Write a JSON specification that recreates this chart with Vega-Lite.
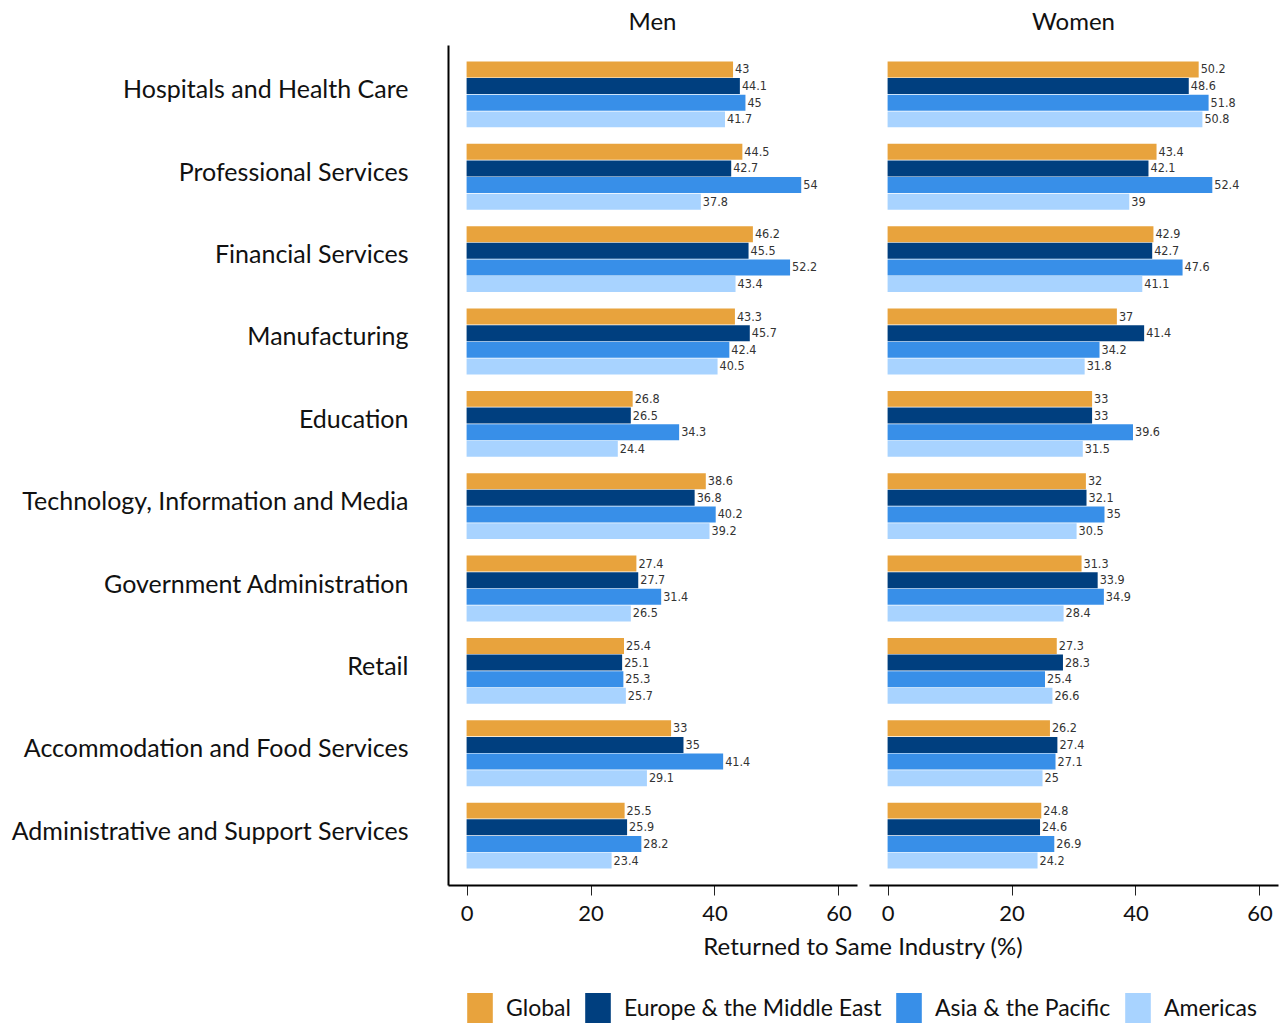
{
  "$schema": "https://vega.github.io/schema/vega-lite/v6.json",
  "background": "white",
  "padding": {"left": 11, "top": 11, "right": 5, "bottom": 5},
  "data": {"values": [
    {"g":"Men","i":"Hospitals and Health Care","r":"Global","v":43},
    {"g":"Men","i":"Hospitals and Health Care","r":"Europe & the Middle East","v":44.1},
    {"g":"Men","i":"Hospitals and Health Care","r":"Asia & the Pacific","v":45},
    {"g":"Men","i":"Hospitals and Health Care","r":"Americas","v":41.7},
    {"g":"Men","i":"Professional Services","r":"Global","v":44.5},
    {"g":"Men","i":"Professional Services","r":"Europe & the Middle East","v":42.7},
    {"g":"Men","i":"Professional Services","r":"Asia & the Pacific","v":54},
    {"g":"Men","i":"Professional Services","r":"Americas","v":37.8},
    {"g":"Men","i":"Financial Services","r":"Global","v":46.2},
    {"g":"Men","i":"Financial Services","r":"Europe & the Middle East","v":45.5},
    {"g":"Men","i":"Financial Services","r":"Asia & the Pacific","v":52.2},
    {"g":"Men","i":"Financial Services","r":"Americas","v":43.4},
    {"g":"Men","i":"Manufacturing","r":"Global","v":43.3},
    {"g":"Men","i":"Manufacturing","r":"Europe & the Middle East","v":45.7},
    {"g":"Men","i":"Manufacturing","r":"Asia & the Pacific","v":42.4},
    {"g":"Men","i":"Manufacturing","r":"Americas","v":40.5},
    {"g":"Men","i":"Education","r":"Global","v":26.8},
    {"g":"Men","i":"Education","r":"Europe & the Middle East","v":26.5},
    {"g":"Men","i":"Education","r":"Asia & the Pacific","v":34.3},
    {"g":"Men","i":"Education","r":"Americas","v":24.4},
    {"g":"Men","i":"Technology, Information and Media","r":"Global","v":38.6},
    {"g":"Men","i":"Technology, Information and Media","r":"Europe & the Middle East","v":36.8},
    {"g":"Men","i":"Technology, Information and Media","r":"Asia & the Pacific","v":40.2},
    {"g":"Men","i":"Technology, Information and Media","r":"Americas","v":39.2},
    {"g":"Men","i":"Government Administration","r":"Global","v":27.4},
    {"g":"Men","i":"Government Administration","r":"Europe & the Middle East","v":27.7},
    {"g":"Men","i":"Government Administration","r":"Asia & the Pacific","v":31.4},
    {"g":"Men","i":"Government Administration","r":"Americas","v":26.5},
    {"g":"Men","i":"Retail","r":"Global","v":25.4},
    {"g":"Men","i":"Retail","r":"Europe & the Middle East","v":25.1},
    {"g":"Men","i":"Retail","r":"Asia & the Pacific","v":25.3},
    {"g":"Men","i":"Retail","r":"Americas","v":25.7},
    {"g":"Men","i":"Accommodation and Food Services","r":"Global","v":33},
    {"g":"Men","i":"Accommodation and Food Services","r":"Europe & the Middle East","v":35},
    {"g":"Men","i":"Accommodation and Food Services","r":"Asia & the Pacific","v":41.4},
    {"g":"Men","i":"Accommodation and Food Services","r":"Americas","v":29.1},
    {"g":"Men","i":"Administrative and Support Services","r":"Global","v":25.5},
    {"g":"Men","i":"Administrative and Support Services","r":"Europe & the Middle East","v":25.9},
    {"g":"Men","i":"Administrative and Support Services","r":"Asia & the Pacific","v":28.2},
    {"g":"Men","i":"Administrative and Support Services","r":"Americas","v":23.4},
    {"g":"Women","i":"Hospitals and Health Care","r":"Global","v":50.2},
    {"g":"Women","i":"Hospitals and Health Care","r":"Europe & the Middle East","v":48.6},
    {"g":"Women","i":"Hospitals and Health Care","r":"Asia & the Pacific","v":51.8},
    {"g":"Women","i":"Hospitals and Health Care","r":"Americas","v":50.8},
    {"g":"Women","i":"Professional Services","r":"Global","v":43.4},
    {"g":"Women","i":"Professional Services","r":"Europe & the Middle East","v":42.1},
    {"g":"Women","i":"Professional Services","r":"Asia & the Pacific","v":52.4},
    {"g":"Women","i":"Professional Services","r":"Americas","v":39},
    {"g":"Women","i":"Financial Services","r":"Global","v":42.9},
    {"g":"Women","i":"Financial Services","r":"Europe & the Middle East","v":42.7},
    {"g":"Women","i":"Financial Services","r":"Asia & the Pacific","v":47.6},
    {"g":"Women","i":"Financial Services","r":"Americas","v":41.1},
    {"g":"Women","i":"Manufacturing","r":"Global","v":37},
    {"g":"Women","i":"Manufacturing","r":"Europe & the Middle East","v":41.4},
    {"g":"Women","i":"Manufacturing","r":"Asia & the Pacific","v":34.2},
    {"g":"Women","i":"Manufacturing","r":"Americas","v":31.8},
    {"g":"Women","i":"Education","r":"Global","v":33},
    {"g":"Women","i":"Education","r":"Europe & the Middle East","v":33},
    {"g":"Women","i":"Education","r":"Asia & the Pacific","v":39.6},
    {"g":"Women","i":"Education","r":"Americas","v":31.5},
    {"g":"Women","i":"Technology, Information and Media","r":"Global","v":32},
    {"g":"Women","i":"Technology, Information and Media","r":"Europe & the Middle East","v":32.1},
    {"g":"Women","i":"Technology, Information and Media","r":"Asia & the Pacific","v":35},
    {"g":"Women","i":"Technology, Information and Media","r":"Americas","v":30.5},
    {"g":"Women","i":"Government Administration","r":"Global","v":31.3},
    {"g":"Women","i":"Government Administration","r":"Europe & the Middle East","v":33.9},
    {"g":"Women","i":"Government Administration","r":"Asia & the Pacific","v":34.9},
    {"g":"Women","i":"Government Administration","r":"Americas","v":28.4},
    {"g":"Women","i":"Retail","r":"Global","v":27.3},
    {"g":"Women","i":"Retail","r":"Europe & the Middle East","v":28.3},
    {"g":"Women","i":"Retail","r":"Asia & the Pacific","v":25.4},
    {"g":"Women","i":"Retail","r":"Americas","v":26.6},
    {"g":"Women","i":"Accommodation and Food Services","r":"Global","v":26.2},
    {"g":"Women","i":"Accommodation and Food Services","r":"Europe & the Middle East","v":27.4},
    {"g":"Women","i":"Accommodation and Food Services","r":"Asia & the Pacific","v":27.1},
    {"g":"Women","i":"Accommodation and Food Services","r":"Americas","v":25},
    {"g":"Women","i":"Administrative and Support Services","r":"Global","v":24.8},
    {"g":"Women","i":"Administrative and Support Services","r":"Europe & the Middle East","v":24.6},
    {"g":"Women","i":"Administrative and Support Services","r":"Asia & the Pacific","v":26.9},
    {"g":"Women","i":"Administrative and Support Services","r":"Americas","v":24.2}
  ]},
  "facet": {
    "column": {
      "field": "g",
      "type": "nominal",
      "title": "Returned to Same Industry (%)",
      "header": {
        "labelOrient": "top",
        "titleOrient": "bottom",
        "labelFontSize": 24,
        "labelColor": "#111",
        "labelPadding": 10,
        "titleFontSize": 24,
        "titleFontWeight": "normal",
        "titleColor": "#111",
        "titlePadding": 2
      }
    }
  },
  "spacing": 12,
  "spec": {
    "width": 409,
    "height": 840,
    "encoding": {
      "y": {
        "field": "i",
        "type": "nominal",
        "sort": ["Hospitals and Health Care","Professional Services","Financial Services","Manufacturing","Education","Technology, Information and Media","Government Administration","Retail","Accommodation and Food Services","Administrative and Support Services"],
        "scale": {"paddingInner": 0.2, "paddingOuter": 0.2},
        "axis": {"title": null, "ticks": false, "labelFontSize": 25, "labelColor": "#111", "labelPadding": 40, "labelOffset": -4, "domainColor": "#000", "domainWidth": 2, "labelLimit": 500}
      },
      "yOffset": {
        "field": "r",
        "type": "nominal",
        "sort": ["Global","Europe & the Middle East","Asia & the Pacific","Americas"],
        "scale": {"paddingInner": 0.04, "paddingOuter": 0}
      },
      "x": {
        "field": "v",
        "type": "quantitative",
        "scale": {"domain": [-3, 63], "nice": false, "zero": false},
        "axis": {"title": null, "values": [0, 20, 40, 60], "grid": false, "tickSize": 10, "tickColor": "#222", "labelFontSize": 22, "labelColor": "#111", "labelPadding": 8, "domainColor": "#000", "domainWidth": 2}
      }
    },
    "layer": [
      {
        "mark": {"type": "bar"},
        "encoding": {
          "x2": {"datum": 0},
          "color": {
            "field": "r",
            "type": "nominal",
            "sort": ["Global","Europe & the Middle East","Asia & the Pacific","Americas"],
            "scale": {"domain": ["Global","Europe & the Middle East","Asia & the Pacific","Americas"], "range": ["#E8A33D","#003F7F","#388FE8","#A8D3FF"]},
            "legend": {"title": null, "orient": "none", "legendX": 16, "legendY": 948, "direction": "horizontal", "symbolType": "M-0.8,-1H0.8V1H-0.8Z", "symbolSize": 1024, "symbolStrokeWidth": 0, "labelFontSize": 23, "labelColor": "#111", "labelLimit": 500, "columnPadding": 11, "labelOffset": 10}
          }
        }
      },
      {
        "mark": {"type": "text", "align": "left", "baseline": "middle", "dx": 2, "fontSize": 12.5, "font": "Liberation Sans Narrow, DejaVu Sans Condensed, sans-serif", "color": "#333"},
        "encoding": {"text": {"field": "v", "type": "quantitative"}}
      }
    ]
  },
  "config": {
    "font": "Lato",
    "view": {"stroke": null},
    "axis": {"grid": false}
  }
}
